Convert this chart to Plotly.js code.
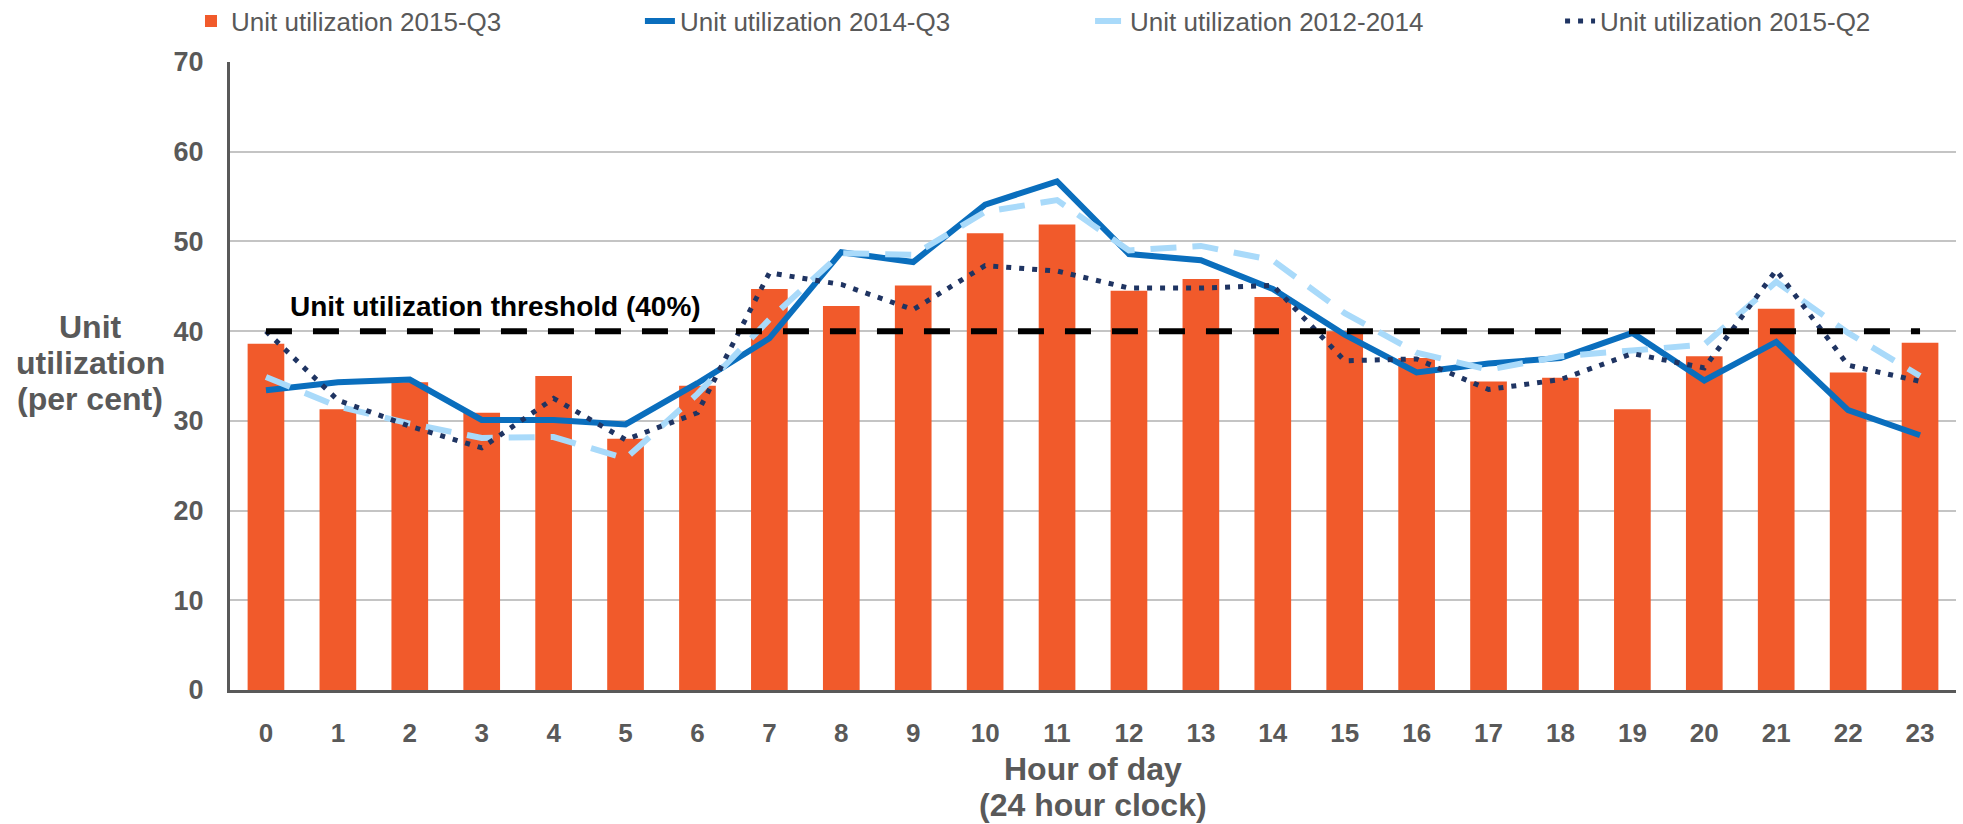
<!DOCTYPE html>
<html>
<head>
<meta charset="utf-8">
<script src="https://cdn.plot.ly/plotly-3.0.1.min.js"></script>
<style>
  html, body { margin: 0; padding: 0; background: white; }
  #chart { width: 1963px; height: 824px; }
</style>
</head>
<body>
<div id="chart"></div>
<script>
// hours of the day (category axis)
const hours = ["0", "1", "2", "3", "4", "5", "6", "7", "8", "9", "10", "11",
  "12", "13", "14", "15", "16", "17", "18", "19", "20", "21", "22", "23"];

// Unit utilization, per cent
const util2015Q3 = [38.6, 31.3, 34.3, 30.9, 35.0, 28.0, 33.9, 44.7, 42.8, 45.1, 50.9, 51.9,
  44.5, 45.8, 43.8, 40.0, 37.0, 34.4, 34.8, 31.3, 37.2, 42.5, 35.4, 38.7];
const util2014Q3 = [33.4, 34.3, 34.6, 30.1, 30.1, 29.6, 34.2, 39.2, 48.8, 47.7, 54.1, 56.7,
  48.6, 47.9, 44.7, 39.6, 35.4, 36.4, 37.0, 39.8, 34.5, 38.8, 31.2, 28.4];
const util2012to2014 = [34.9, 31.6, 29.7, 28.1, 28.2, 25.8, 33.0, 41.3, 48.7, 48.5, 53.3, 54.6,
  49.0, 49.5, 47.9, 42.0, 37.6, 35.7, 37.2, 37.9, 38.5, 45.5, 39.8, 35.0];
const util2015Q2 = [40.0, 32.3, 29.4, 27.0, 32.5, 27.9, 30.9, 46.5, 45.2, 42.4, 47.3, 46.7,
  44.8, 44.8, 45.1, 36.7, 36.9, 33.5, 34.6, 37.5, 35.9, 46.8, 36.2, 34.4];
const threshold = hours.map(() => 40);

const yTitleLines = ["Unit", "utilization", "(per cent)"];
const xTitleLines = ["Hour of day", "(24 hour clock)"];

const font = '"Liberation Sans", Arial, sans-serif';
const grey = "#595959";

const traces = [
  {
    type: "bar",
    x: hours,
    y: util2015Q3,
    name: "Unit utilization 2015-Q3",
    legend: "legend",
    marker: { color: "#F15A2B" }
  },
  {
    type: "scatter",
    mode: "lines",
    x: hours,
    y: util2014Q3,
    name: "Unit utilization 2014-Q3",
    legend: "legend2",
    line: { color: "#0A6EBD", width: 6 }
  },
  {
    type: "scatter",
    mode: "lines",
    x: hours,
    y: util2012to2014,
    name: "Unit utilization 2012-2014",
    legend: "legend3",
    line: { color: "#A9DAFA", width: 6, dash: "26px,16px" }
  },
  {
    type: "scatter",
    mode: "lines",
    x: hours,
    y: util2015Q2,
    name: "Unit utilization 2015-Q2",
    legend: "legend4",
    line: { color: "#1F3462", width: 5, dash: "5px,8px" }
  },
  {
    type: "scatter",
    mode: "lines",
    x: hours,
    y: threshold,
    showlegend: false,
    hoverinfo: "skip",
    line: { color: "black", width: 6, dash: "26px,21px" }
  }
];

// one legend box per series so the entries sit where they do in the original
function legendAt(x) {
  return {
    orientation: "h",
    x: x,
    xanchor: "left",
    y: 1.0653,
    yanchor: "middle",
    bgcolor: "rgba(0,0,0,0)",
    font: { family: font, size: 26, color: grey }
  };
}

const annotations = [];
const yTitleY = [0.578, 0.5207, 0.4634];
yTitleLines.forEach((t, i) => {
  annotations.push({
    xref: "paper", yref: "paper",
    x: -0.0811, y: yTitleY[i],
    xanchor: "center", yanchor: "middle",
    showarrow: false,
    text: "<b>" + t + "</b>",
    font: { family: font, size: 32, color: grey }
  });
});
const xTitleY = [-0.1258, -0.1831];
xTitleLines.forEach((t, i) => {
  annotations.push({
    xref: "paper", yref: "paper",
    x: 0.5, y: xTitleY[i],
    xanchor: "center", yanchor: "middle",
    showarrow: false,
    text: "<b>" + t + "</b>",
    font: { family: font, size: 32, color: grey }
  });
});
annotations.push({
  xref: "paper", yref: "y",
  x: 0.0336, y: 42.7,
  xanchor: "left", yanchor: "middle",
  showarrow: false,
  text: "<b>Unit utilization threshold (40%)</b>",
  font: { family: font, size: 28, color: "black" }
});

const layout = {
  width: 1963,
  height: 824,
  margin: { l: 230, r: 7, t: 62, b: 134, autoexpand: false },
  paper_bgcolor: "white",
  plot_bgcolor: "white",
  bargap: 0.49,
  showlegend: true,
  legend: legendAt(-0.0226),
  legend2: legendAt(0.2375),
  legend3: legendAt(0.4983),
  legend4: legendAt(0.7706),
  xaxis: {
    type: "category",
    range: [-0.5, 23.5],
    showgrid: false,
    showline: true,
    linecolor: grey,
    linewidth: 3,
    ticks: "",
    ticklabelstandoff: 18,
    tickfont: { family: font, size: 26, color: grey, weight: "bold" }
  },
  yaxis: {
    range: [0, 70],
    dtick: 10,
    showgrid: true,
    gridcolor: "#C4C4C4",
    gridwidth: 2,
    showline: true,
    linecolor: grey,
    linewidth: 3,
    zeroline: false,
    ticks: "",
    ticklabelstandoff: 18,
    tickfont: { family: font, size: 27, color: grey, weight: "bold" }
  },
  annotations: annotations
};

Plotly.newPlot("chart", traces, layout, { displayModeBar: false, staticPlot: true });
</script>
</body>
</html>
